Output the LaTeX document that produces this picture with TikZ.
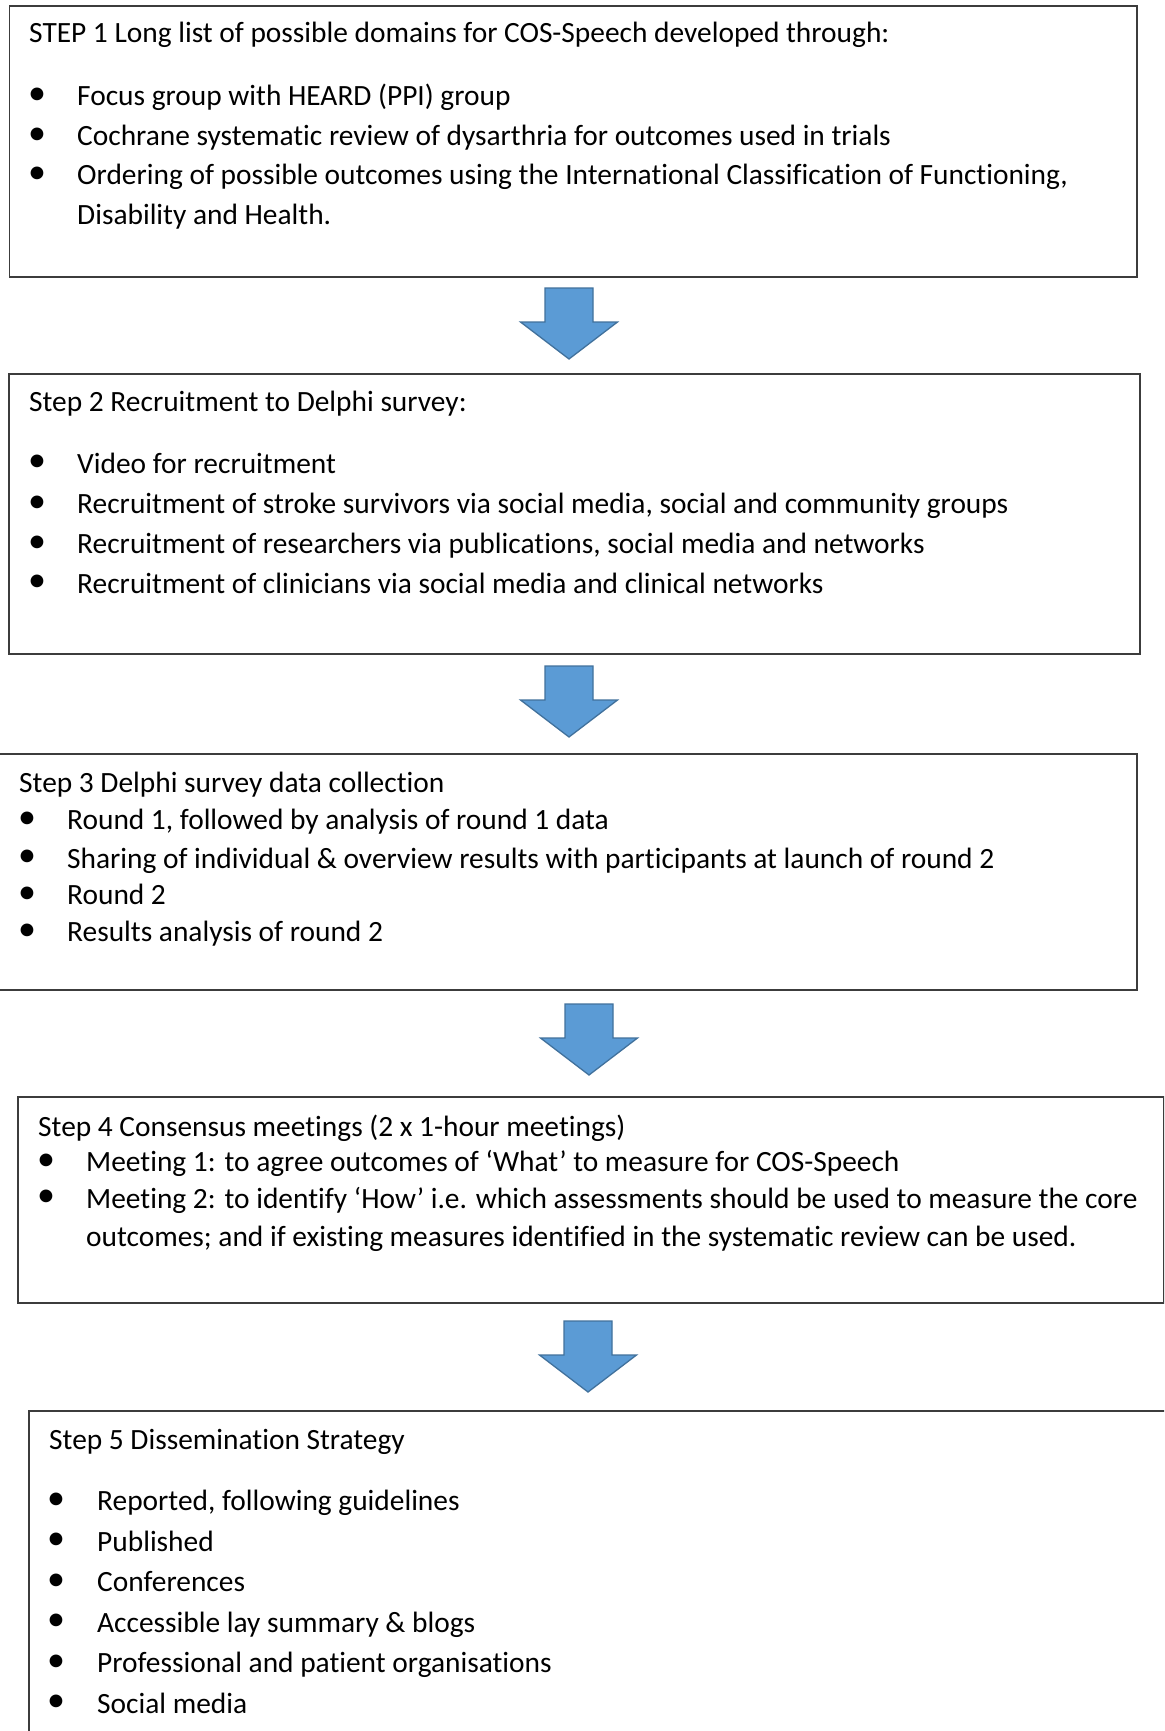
\documentclass[tikz,border=0pt]{standalone}
\usepackage{fontspec}
\setmainfont{Carlito}[Ligatures={NoCommon}]
\definecolor{arrfill}{HTML}{5B9BD5}
\definecolor{arrline}{HTML}{41719C}
\definecolor{boxline}{HTML}{3C3C3C}
\begin{document}
\begin{tikzpicture}[x=1pt,y=-1pt,
  box/.style={draw=boxline, line width=1.6pt, rectangle, inner sep=0pt, anchor=north west},
  txt/.style={anchor=base west, inner sep=0pt, font=\fontsize{29.4}{35}\selectfont},
  bul/.style={anchor=center, inner sep=0pt, font=\fontsize{36}{36}\selectfont},
  blockarr/.style={fill=arrfill, draw=arrline, line width=1.3pt, line join=miter},
  downarrow/.pic={\draw[blockarr] (-24,0) -- (24,0) -- (24,34) -- (48.5,34) -- (0,71) -- (-48.5,34) -- (-24,34) -- cycle;}
]
\useasboundingbox (0,0) rectangle (1164,1731);
\clip (0,0) rectangle (1164,1731);
\fill[white] (0,0) rectangle (1164,1731);

% boxes
\node[box, minimum width=1127.5pt, minimum height=271pt] (b1) at (8.5,5) {};
\node[box, minimum width=1131pt, minimum height=280pt] (b2) at (8,373) {};
\node[box, minimum width=1141pt, minimum height=236pt] (b3) at (-5,753) {};
\node[box, minimum width=1146pt, minimum height=206pt] (b4) at (17,1096) {};
\node[box, minimum width=1200pt, minimum height=400pt] (b5) at (28,1410) {};

% arrows
\pic (a1) at (569,288) {downarrow};
\pic (a2) at (569,666) {downarrow};
\pic (a3) at (589,1004) {downarrow};
\pic (a4) at (588,1321) {downarrow};

% box 1
\node[txt] (t1h) at (29,42.5) {STEP 1 Long list of possible domains for COS-Speech developed through:};
\node[bul] (t1b1) at (37,96.5) {•};
\node[txt] (t1a) at (77,106) {Focus group with HEARD (PPI) group};
\node[bul] (t1b2) at (37,136) {•};
\node[txt] (t1b) at (77,145.5) {Cochrane systematic review of dysarthria for outcomes used in trials};
\node[bul] (t1b3) at (37,175) {•};
\node[txt] (t1c) at (77,184.5) {Ordering of possible outcomes using the International Classification of Functioning,};
\node[txt] (t1d) at (77,224) {Disability and Health.};

% box 2
\node[txt] (t2h) at (29,411) {Step 2 Recruitment to Delphi survey:};
\node[bul] (t2b1) at (37,463.5) {•};
\node[txt] (t2a) at (77,473) {Video for recruitment};
\node[bul] (t2b2) at (37,504) {•};
\node[txt] (t2b) at (77,513.5) {Recruitment of stroke survivors via social media, social and community groups};
\node[bul] (t2b3) at (37,544) {•};
\node[txt] (t2c) at (77,553.5) {Recruitment of researchers via publications, social media and networks};
\node[bul] (t2b4) at (37,583.5) {•};
\node[txt] (t2d) at (77,593) {Recruitment of clinicians via social media and clinical networks};

% box 3
\node[txt] (t3h) at (19,792.5) {Step 3 Delphi survey data collection};
\node[bul] (t3b1) at (27,820) {•};
\node[txt] (t3a) at (67,829.5) {Round 1, followed by analysis of round 1 data};
\node[bul] (t3b2) at (27,858.5) {•};
\node[txt] (t3b) at (67,868) {Sharing of individual \& overview results with participants at launch of round 2};
\node[bul] (t3b3) at (27,895) {•};
\node[txt] (t3c) at (67,904.5) {Round 2};
\node[bul] (t3b4) at (27,932) {•};
\node[txt] (t3d) at (67,941.5) {Results analysis of round 2};

% box 4
\node[txt] (t4h) at (38,1136) {Step 4 Consensus meetings (2 x 1-hour meetings)};
\node[bul] (t4b1) at (46,1162) {•};
\node[txt] (t4a) at (86,1171.5) {Meeting 1: to agree outcomes of ‘What’ to measure for COS-Speech};
\node[bul] (t4b2) at (46,1198.5) {•};
\node[txt] (t4b) at (86,1208) {Meeting 2: to identify ‘How’ i.e. which assessments should be used to measure the core};
\node[txt] (t4c) at (86,1246) {outcomes; and if existing measures identified in the systematic review can be used.};

% box 5
\node[txt] (t5h) at (49,1449.5) {Step 5 Dissemination Strategy};
\node[bul] (t5b1) at (56,1501) {•};
\node[txt] (t5a) at (97,1510.5) {Reported, following guidelines};
\node[bul] (t5b2) at (56,1541.5) {•};
\node[txt] (t5b) at (97,1551) {Published};
\node[bul] (t5b3) at (56,1582) {•};
\node[txt] (t5c) at (97,1591.5) {Conferences};
\node[bul] (t5b4) at (56,1622.5) {•};
\node[txt] (t5d) at (97,1632) {Accessible lay summary \& blogs};
\node[bul] (t5b5) at (56,1663) {•};
\node[txt] (t5e) at (97,1672.5) {Professional and patient organisations};
\node[bul] (t5b6) at (56,1703.5) {•};
\node[txt] (t5f) at (97,1713) {Social media};
\end{tikzpicture}
\end{document}
